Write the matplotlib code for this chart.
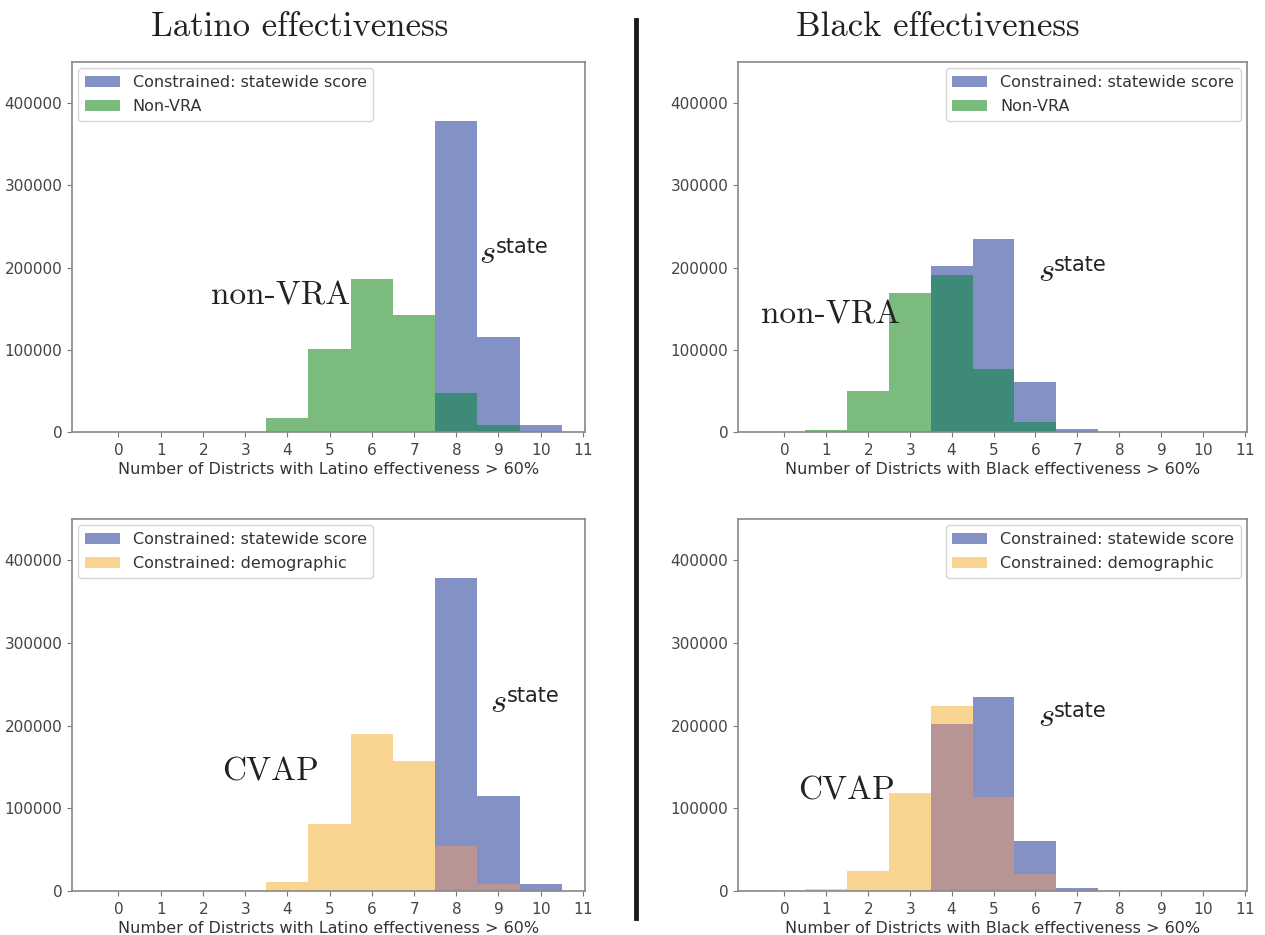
import matplotlib
matplotlib.use("Agg")
import matplotlib.pyplot as plt
from matplotlib.lines import Line2D
import numpy as np

plt.rcParams['mathtext.fontset'] = 'cm'
plt.rcParams['axes.formatter.use_mathtext'] = True

# number of districts (bins centred on integers)
districts = list(range(11))

latino_statewide = [0, 0, 0, 0, 0, 0, 0, 0, 378500, 115000, 8000]
latino_nonvra = [0, 0, 0, 0, 17500, 101000, 186500, 142000, 48000, 8000, 0]
latino_cvap = [0, 0, 0, 0, 10500, 81500, 189500, 157500, 54000, 9000, 0]

black_statewide = [0, 0, 0, 0, 202000, 235000, 61000, 4000, 0, 0, 0]
black_nonvra = [0, 2500, 50000, 169000, 190500, 77000, 12500, 0, 0, 0, 0]
black_cvap = [0, 2000, 24000, 119000, 224000, 114000, 21000, 0, 0, 0, 0]

BLUE = '#8391c4'
GREEN = '#7bbb7d'
TEAL = '#3e8a79'
ORANGE = '#fad592'
MAUVE = '#b99495'


def panel(ax, base, other, other_col, overlap_col, other_label, group,
          legend_loc, word, word_xy, s_xy):
    ax.bar(districts, base, width=1.0, color=BLUE, label='Constrained: statewide score')
    ax.bar(districts, other, width=1.0, color=other_col, label=other_label)
    ax.bar(districts, np.minimum(base, other), width=1.0, color=overlap_col)
    ax.set_xlim(-1.1, 11.05)
    ax.set_ylim(0, 450000)
    ax.set_xticks(range(12))
    ax.set_yticks([0, 100000, 200000, 300000, 400000])
    ax.set_yticklabels(['0', '100000', '200000', '300000', '400000'])
    ax.set_xlabel('Number of Districts with %s effectiveness > 60%%' % group,
                  fontsize=11.5, color='#333333', labelpad=3)
    ax.tick_params(labelsize=11, labelcolor='#444444', color='#777777')
    for sp in ax.spines.values():
        sp.set_color('#888888')
        sp.set_linewidth(1.2)
    leg = ax.legend(loc=legend_loc, fontsize=11.5, handlelength=2.2,
                    borderaxespad=0.4, labelspacing=0.6)
    for t in leg.get_texts():
        t.set_color('#333333')
    ax.text(word_xy[0], word_xy[1], word, fontfamily='cmr10', fontsize=24,
            ha='center', va='center', color='#222222')
    ax.text(s_xy[0], s_xy[1], '$s$', fontsize=25, ha='left', va='baseline',
            color='#222222')
    ax.annotate('state', xy=s_xy, xytext=(12, 7), textcoords='offset points',
                fontsize=15, ha='left', va='baseline', color='#222222')


fig = plt.figure(figsize=(12.65, 9.35), dpi=100)
W, H = 1265, 935
ax_tl = fig.add_axes([72 / W, 1 - 432 / H, 513 / W, 370 / H])
ax_tr = fig.add_axes([738 / W, 1 - 432 / H, 509 / W, 370 / H])
ax_bl = fig.add_axes([72 / W, 1 - 891 / H, 513 / W, 372 / H])
ax_br = fig.add_axes([738 / W, 1 - 891 / H, 509 / W, 372 / H])

panel(ax_tl, latino_statewide, latino_nonvra, GREEN, TEAL, 'Non-VRA', 'Latino',
      'upper left', 'non-VRA', (3.85, 165000), (8.55, 206000))
panel(ax_tr, black_statewide, black_nonvra, GREEN, TEAL, 'Non-VRA', 'Black',
      'upper right', 'non-VRA', (1.1, 142000), (6.05, 184000))
panel(ax_bl, latino_statewide, latino_cvap, ORANGE, MAUVE, 'Constrained: demographic',
      'Latino', 'upper left', 'CVAP', (3.6, 144000), (8.8, 217000))
panel(ax_br, black_statewide, black_cvap, ORANGE, MAUVE, 'Constrained: demographic',
      'Black', 'upper right', 'CVAP', (1.5, 121000), (6.05, 199000))

fig.text(300 / W, 1 - 27 / H, 'Latino effectiveness', fontfamily='cmr10',
         fontsize=25, ha='center', va='center', color='#222222')
fig.text(938 / W, 1 - 27 / H, 'Black effectiveness', fontfamily='cmr10',
         fontsize=25, ha='center', va='center', color='#222222')
fig.add_artist(Line2D([636 / W, 636 / W], [0.018, 0.979], transform=fig.transFigure,
                      color='#1a1a1a', lw=3.5))

fig.savefig('out.png', dpi=100)
